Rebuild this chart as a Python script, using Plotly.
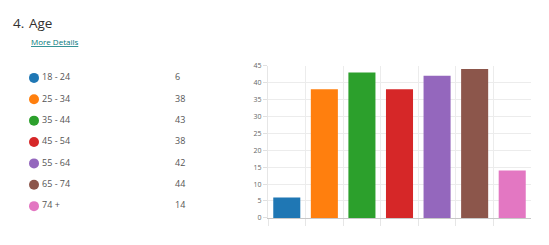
import plotly.graph_objects as go

categories = ["18 - 24", "25 - 34", "35 - 44", "45 - 54", "55 - 64", "65 - 74", "74 +"]
counts = [6, 38, 43, 38, 42, 44, 14]
colors = ["#1f77b4", "#ff7f0e", "#2ca02c", "#d62728", "#9467bd", "#8c564b", "#e377c2"]
y_ticks = [0, 5, 10, 15, 20, 25, 30, 35, 40, 45]
title_num = "4."
title_text = "Age"
link_text = "More Details"

W, H = 549, 245
FONT = "Open Sans, Noto Sans, sans-serif"

fig = go.Figure()

fig.add_trace(go.Bar(
    x=categories, y=counts,
    marker=dict(color=colors, line=dict(width=0)),
    xaxis="x", yaxis="y", showlegend=False, hoverinfo="x+y",
))

fig.add_trace(go.Scatter(
    x=[34] * len(categories), y=categories, mode="markers",
    marker=dict(color=colors, size=10, line=dict(width=0)),
    xaxis="x2", yaxis="y2", showlegend=False, hoverinfo="skip",
))
fig.add_trace(go.Scatter(
    x=[42] * len(categories), y=categories, mode="text",
    text=categories, textposition="middle right",
    textfont=dict(size=9, color="#555555", family=FONT),
    xaxis="x2", yaxis="y2", showlegend=False, hoverinfo="skip",
))
fig.add_trace(go.Scatter(
    x=[175] * len(categories), y=categories, mode="text",
    text=[str(v) for v in counts], textposition="middle right",
    textfont=dict(size=9, color="#555555", family=FONT),
    xaxis="x2", yaxis="y2", showlegend=False, hoverinfo="skip",
))

px = lambda v: v / W
py = lambda v: 1 - v / H

fig.update_layout(
    width=W, height=H,
    margin=dict(l=0, r=0, t=0, b=0),
    paper_bgcolor="white", plot_bgcolor="white",
    font=dict(family=FONT, color="#444444"),
    bargap=0.28,
    xaxis=dict(
        domain=[px(268), px(531)],
        type="category", categoryorder="array", categoryarray=categories,
        tickson="boundaries", showticklabels=False,
        ticks="outside", ticklen=7, tickcolor="#e6e6e6",
        showgrid=True, gridcolor="#ececec", gridwidth=1,
        showline=True, linecolor="#c8c8c8", linewidth=1,
        zeroline=False, fixedrange=True,
    ),
    yaxis=dict(
        domain=[py(221), py(63)],
        range=[0, 45], tickvals=y_ticks,
        ticks="outside", ticklen=4, tickcolor="#e0e0e0",
        tickfont=dict(size=7, color="#666666", family=FONT),
        showgrid=True, gridcolor="#ececec", gridwidth=1,
        showline=True, linecolor="#e6e6e6", linewidth=1,
        zeroline=False, fixedrange=True,
    ),
    xaxis2=dict(
        domain=[0, px(220)], range=[0, 220], anchor="y2",
        visible=False, fixedrange=True,
    ),
    yaxis2=dict(
        domain=[0, 1], anchor="x2",
        type="category", categoryorder="array", categoryarray=categories,
        range=[7.63, -3.41], visible=False, fixedrange=True,
    ),
    annotations=[
        dict(text=title_num, x=px(11), y=py(19), xref="paper", yref="paper",
             xanchor="left", yanchor="middle", showarrow=False,
             font=dict(size=13.5, color="#323130", family=FONT)),
        dict(text=title_text, x=px(27), y=py(19), xref="paper", yref="paper",
             xanchor="left", yanchor="middle", showarrow=False,
             font=dict(size=13.5, color="#323130", family=FONT)),
        dict(text="<u>" + link_text + "</u>", x=px(29), y=py(38), xref="paper", yref="paper",
             xanchor="left", yanchor="middle", showarrow=False,
             font=dict(size=8, color="#03787c", family=FONT)),
    ],
)

fig.write_html("out.html")
